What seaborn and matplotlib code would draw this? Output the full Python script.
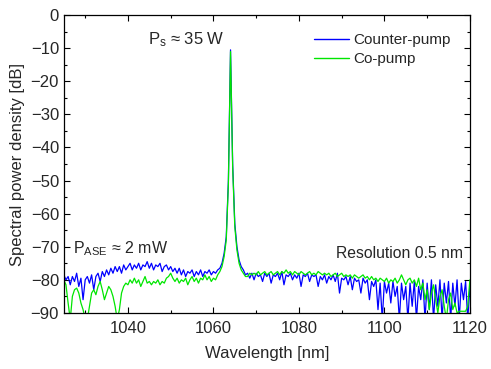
import numpy as np
import pandas as pd
import matplotlib
matplotlib.use("Agg")
import matplotlib.pyplot as plt
import seaborn as sns
from matplotlib.ticker import MultipleLocator

# wavelength grid [nm], 0.5 nm steps
wavelength = np.arange(1025.0, 1120.01, 0.5)

counter_pump = [
    -78.5, -80, -79, -81.5, -79, -80.5, -78, -82, -79.5, -86,
    -80, -79, -81, -78.5, -83, -79, -78, -80.5, -77.5, -79,
    -77, -78.5, -76.5, -78, -76, -77.5, -76, -78, -75.5, -77,
    -76, -75, -77, -75.5, -76.5, -75, -77, -75.5, -76, -74.5,
    -76.5, -75, -77, -75.5, -76, -75, -77.5, -76, -75.5, -77,
    -76, -77.5, -76.5, -78, -76.5, -78.5, -77, -79, -77.5, -78,
    -77, -79, -77.5, -78.5, -77, -79, -77.5, -78, -77, -78.5,
    -77.5, -78, -77, -76.5, -75, -72, -67, -50, -10.5, -45,
    -63, -70, -74, -76, -77, -78.5, -78, -79.5, -78, -80,
    -78, -79, -78.5, -80.5, -78, -79, -78, -81, -78.5, -79,
    -78, -80, -77.5, -81.5, -78.5, -79, -78, -80, -78.5, -79.5,
    -78, -82, -78.5, -79, -78, -80.5, -78.5, -79, -78.5, -82,
    -79, -80, -78.5, -81, -79, -80, -78.5, -80.5, -78, -84,
    -79.5, -80, -79, -81.5, -79, -83, -79.5, -80.5, -80, -84,
    -79.5, -81, -80, -86, -80.5, -82, -80, -89, -81, -92,
    -80.5, -84, -81, -87, -80.5, -85, -82, -92, -81, -86,
    -82, -92, -81, -88, -80.5, -92, -82, -86, -80, -92,
    -81, -89, -80, -92, -81.5, -88, -80, -92, -81, -87,
    -80.5, -92, -81, -88, -80, -92, -81, -86, -80.5, -92,
    -82,
]

co_pump = [
    -80, -81.5, -87, -92, -85, -83, -82.5, -84, -87, -89,
    -92, -92, -88, -84, -83, -84.5, -82, -80.5, -83, -86,
    -84, -82, -83, -85, -88, -92, -89, -84, -82, -81,
    -81.5, -80, -81, -79.5, -81, -80, -82, -80.5, -79, -81,
    -80.5, -81.5, -80.5, -81, -80, -81.5, -80.5, -81, -79.5, -79,
    -78, -79.5, -80.5, -79.5, -81, -80, -80.5, -79.5, -81.5, -80,
    -79, -80.5, -79.5, -81, -79.5, -80, -78.5, -80, -79, -80.5,
    -79.5, -80, -78.5, -77.5, -76, -73, -68, -51, -11, -46,
    -64, -71, -75, -77, -78, -79, -79, -78, -78.5, -78,
    -78.5, -77.5, -78.5, -78, -77.5, -78.5, -78, -77.5, -78.5, -78,
    -77.5, -78.5, -77.5, -78, -77, -78, -77.5, -78.5, -77.5, -78,
    -78.5, -77.5, -78, -78.5, -78, -77.5, -78.5, -78, -78.5, -77.5,
    -78, -78.5, -78, -78.5, -78, -79, -78.5, -78, -79, -78.5,
    -78, -79, -78.5, -79, -78.5, -79.5, -78.5, -79, -79.5, -79,
    -78.5, -79.5, -79, -80, -79, -80, -79.5, -80.5, -79.5, -80,
    -80.5, -79.5, -81, -80, -80.5, -79.5, -81, -80, -78.5, -80,
    -81.5, -80, -79.5, -81, -80, -82, -79.5, -83, -81, -86,
    -83, -89, -84, -81.5, -86, -90, -85, -83, -88, -92,
    -86, -84, -89, -87, -90, -89.5, -89.5, -89.5, -89.5, -88,
    -80,
]

series_names = ["Counter-pump", "Co-pump"]
series_colors = ["#0000ff", "#00e600"]

x_ticks = [1040, 1060, 1080, 1100, 1120]
y_ticks = [0, -10, -20, -30, -40, -50, -60, -70, -80, -90]

sns.set_style("ticks")
plt.rcParams["font.family"] = ["Liberation Sans", "DejaVu Sans"]
plt.rcParams["mathtext.fontset"] = "custom"
plt.rcParams["mathtext.rm"] = "Liberation Sans"
plt.rcParams["mathtext.it"] = "Liberation Sans"

frames = []
for name, vals in zip(series_names, [counter_pump, co_pump]):
    n = min(len(vals), len(wavelength))
    frames.append(pd.DataFrame({"Wavelength": wavelength[:n],
                                "Power": vals[:n],
                                "Series": name}))
df = pd.concat(frames, ignore_index=True)

fig = plt.figure(figsize=(4.91, 3.69), dpi=100)
ax = fig.add_axes([0.130, 0.152, 0.827, 0.807])

sns.lineplot(data=df, x="Wavelength", y="Power", hue="Series",
             hue_order=series_names,
             palette=dict(zip(series_names, series_colors)),
             estimator=None, sort=False, linewidth=0.9, ax=ax)

ax.set_xlim(1025, 1120)
ax.set_ylim(-90, 0)
ax.set_xticks(x_ticks)
ax.set_yticks(y_ticks)
ax.xaxis.set_minor_locator(MultipleLocator(10))
ax.yaxis.set_minor_locator(MultipleLocator(5))
ax.tick_params(which="both", direction="in", top=True, right=True,
               labelsize=12, color="black", width=0.8)
ax.tick_params(axis="x", which="major", pad=6)
ax.tick_params(which="major", length=4)
ax.tick_params(which="minor", length=2.5)
for s in ax.spines.values():
    s.set_color("black")
    s.set_linewidth(0.9)

ax.set_xlabel("Wavelength [nm]", fontsize=12, labelpad=7)
ax.set_ylabel("Spectral power density [dB]", fontsize=12, labelpad=4)

leg = ax.legend(loc="upper right", bbox_to_anchor=(0.98, 0.975), frameon=False,
                fontsize=11, handlelength=2.3, handletextpad=0.3,
                borderaxespad=0.3, labelspacing=0.3)
for h in leg.get_lines():
    h.set_linewidth(1.0)

ax.text(1062.7, -7.3, r"P$_\mathrm{s}$ ≈ 35 W", fontsize=12, va="center", ha="right")
ax.text(1027.1, -70.7, r"P$_\mathrm{ASE}$ ≈ 2 mW", fontsize=11.5, va="center", ha="left")
ax.text(1118.3, -71.9, "Resolution 0.5 nm", fontsize=11.3, va="center", ha="right")

fig.savefig("out.png", dpi=100)
